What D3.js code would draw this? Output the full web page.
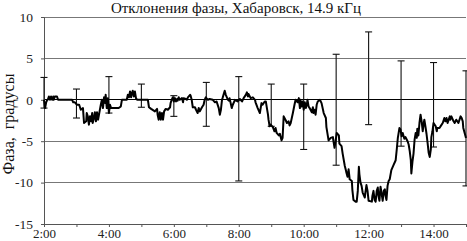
<html>
<script src="https://cdn.jsdelivr.net/npm/d3@7"></script>
<body style="margin:0">
<svg width=467 height=241></svg>
</body>
<script>

// minutes after 2:00 and phase deviation, degrees
var minutes = [0,2,4,6,7,9,11,13,15,17,18,20,24,26,52,54,57,61,65,68,72,74,78,79,81,83,85,87,89,90,92,94,96,98,100,103,105,107,109,111,113,114,116,118,120,122,124,138,142,144,153,155,157,159,161,162,164,166,168,170,172,192,194,198,205,209,210,212,214,216,218,220,222,225,229,233,234,236,238,240,242,244,246,247,249,251,255,257,258,262,264,266,270,271,273,275,279,281,284,286,288,292,295,297,299,303,306,312,316,319,323,325,327,329,330,334,336,340,342,343,347,349,353,358,362,366,369,373,375,377,378,382,386,390,391,395,399,402,404,408,410,412,414,415,417,419,423,426,428,430,434,436,439,441,443,447,449,452,454,456,460,463,465,469,471,473,474,476,478,480,482,484,486,487,489,491,495,497,498,500,502,504,506,510,513,517,521,522,526,530,534,535,537,539,541,545,546,550,552,556,558,559,561,563,565,569,570,572,576,578,580,582,583,585,587,589,593,594,596,598,600,606,607,609,611,613,615,617,618,620,622,624,626,628,630,631,633,635,637,639,642,646,650,652,654,655,657,659,661,663,666,668,672,674,676,678,679,681,683,685,687,689,690,692,694,696,698,700,702,703,705,707,709,711,713,715,716,718,720,724,726,727,731,735,737,740,742,744,746,750,751,753,757,759,762,766,770,772,774,775,780];
var phase = [0,-1.0,-0.3,0,0,0.4,0,0.4,0,0.4,0,0.4,0.4,0,0,-0.3,-0.3,-0.6,-0.6,-1.2,-1.0,-2.8,-2.6,-1.6,-2.0,-3.0,-2.0,-2.6,-1.6,-2.8,-2.3,-1.5,-2.6,-1.5,-2.4,-1.3,-0.6,0,-1.0,0.3,-0.4,0.6,-1.0,0.2,-1.6,-0.6,-1.0,-1.0,-0.8,0,0,0.6,0.3,1.0,0.3,0.7,1.1,0.4,1.0,0.2,0,0,-0.9,-1.1,-1.4,-1.1,-1.8,-2.4,-1.5,-2.4,-1.6,-2.4,-1.4,-1.1,-1.2,-0.9,-0.4,0,0.3,-0.2,0.2,-0.2,0.1,-0.1,0.3,0,0.2,-0.3,0.2,0.1,0,0.3,0.6,0.5,0,-0.9,-0.9,-1.2,-1.6,-1.0,-1.4,-0.9,-0.6,0,0.3,0,0.1,0,-0.3,-0.2,-1.0,-1.8,-1.2,0,0.2,1.1,0.6,0,-0.1,0.2,-1.0,-0.6,0,-0.2,0.1,-0.2,0.2,0.6,0.9,0.4,0.7,0.2,0.3,0,-0.3,-1.0,-1.6,-0.4,-0.6,-0.2,-0.2,-1.0,-1.8,-2.4,-3.2,-3.0,-3.3,-3.8,-3.4,-4.0,-4.3,-4.1,-4.9,-4.6,-2.0,-2.5,-2.8,-2.6,-3.1,-2.8,-1.6,-0.6,0,-0.3,0.2,-1.0,0,-0.8,-0.2,-1.2,-0.3,-1.0,-0.5,0,-0.8,-1.0,-1.5,-0.9,-1.6,-1.2,-1.8,-0.6,-0.2,0,-0.4,-1.6,-2.2,-3.3,-4.9,-4.6,-4.5,-5.0,-5.8,-5.0,-4.0,-4.3,-5.3,-5.6,-6.5,-8.0,-8.5,-8.8,-9.3,-8.4,-9.6,-9.8,-10.9,-12.1,-12.3,-12.3,-11.0,-8.1,-9.0,-10.0,-10.4,-11.2,-11.8,-11.2,-10.3,-11.0,-12.2,-12.3,-11.6,-11.0,-12.1,-12.3,-11.0,-10.6,-11.5,-12.2,-10.5,-11.3,-12.2,-11.0,-10.8,-11.5,-12.1,-10.4,-9.8,-9.6,-8.5,-7.9,-7.3,-6.0,-4.6,-4.2,-3.4,-3.6,-4.4,-4.0,-4.7,-4.5,-5.0,-5.4,-6.2,-7.3,-8.9,-7.5,-6.5,-4.8,-4.0,-4.6,-3.5,-4.3,-2.8,-1.8,-2.6,-3.8,-2.8,-2.4,-3.2,-4.1,-5.2,-6.4,-6.9,-6.0,-4.5,-3.8,-2.8,-3.2,-3.8,-3.4,-3.4,-3.0,-2.8,-2.2,-2.6,-2.2,-2.8,-2.0,-2.4,-2.0,-2.6,-2.8,-2.4,-2.8,-2.0,-2.2,-2.6,-3.4,-4.6];

// error bars, one per hour
var barHours = [2,3,4,5,6,7,8,9,10,11,12,13,14,15];
var barTop = [2.7,1.3,2.8,1.9,0.5,2.1,2.8,1.9,1.9,5.5,8.2,4.7,4.5,3.5];
var barBottom = [-1.0,-2.2,-1.6,-0.9,-2.0,-3.2,-9.8,-3.2,-6.0,-7.9,-3.0,-5.6,-5.7,-10.4];

var xTickLabels = ["2:00","4:00","6:00","8:00","10:00","12:00","14:00"];
var yTicks = [10,5,0,-5,-10,-15];

var mLeft = 44, mRight = 466, mTop = 17, mBottom = 224;
var svg = d3.select("svg");

var x = d3.scaleLinear().domain([0,780]).range([mLeft,mRight]);
var y = d3.scaleLinear().domain([-15,10]).range([mBottom,mTop]);

// grid
svg.selectAll(".grid").data(yTicks).enter().append("line")
  .attr("x1",mLeft).attr("x2",mRight)
  .attr("y1",function(d){return y(d);}).attr("y2",function(d){return y(d);})
  .attr("stroke", function(d){return d===0 ? "#000" : "#777";})
  .attr("stroke-width",1).attr("shape-rendering","crispEdges");

// y axis
var yAxis = d3.axisLeft(y).tickValues(yTicks).tickSize(3).tickFormat(function(d){return d;});
var gy = svg.append("g").attr("transform","translate("+mLeft+",0)").call(yAxis);
gy.select(".domain").attr("stroke","#555");
gy.selectAll("line").attr("stroke","#555");
gy.selectAll("text").attr("font-family","Liberation Serif").attr("font-size",13.5)
  .attr("fill","#222").attr("x",-11);

// x axis
var xAxis = d3.axisBottom(x).tickValues(d3.range(0,781,60)).tickSize(3)
  .tickFormat(function(d,i){ return d % 120 === 0 ? xTickLabels[d/120] : ""; });
var gx = svg.append("g").attr("transform","translate(0,"+mBottom+")").call(xAxis);
gx.select(".domain").attr("stroke","#555");
gx.selectAll("line").attr("stroke","#555");
gx.selectAll("text").attr("font-family","Liberation Serif").attr("font-size",13)
  .attr("fill","#222").attr("y",5);

// error bars
var cap = 3.5;
barHours.forEach(function(h,i){
  var cx = x((h-2)*60);
  var g = svg.append("g").attr("stroke","#111").attr("stroke-width",1.1);
  g.append("line").attr("x1",cx).attr("x2",cx).attr("y1",y(barTop[i])).attr("y2",y(barBottom[i]));
  g.append("line").attr("x1",cx-cap).attr("x2",cx+cap).attr("y1",y(barTop[i])).attr("y2",y(barTop[i]));
  g.append("line").attr("x1",cx-cap).attr("x2",cx+cap).attr("y1",y(barBottom[i])).attr("y2",y(barBottom[i]));
});

// phase line
var line = d3.line().x(function(d,i){return x(minutes[i]);}).y(function(d){return y(d);});
svg.append("path").datum(phase).attr("d",line)
  .attr("fill","none").attr("stroke","#000").attr("stroke-width",2)
  .attr("stroke-linejoin","round");

// title
svg.append("text").attr("x",236).attr("y",13).attr("text-anchor","middle")
  .attr("font-family","Liberation Serif").attr("font-size",15).attr("fill","#111")
  .text("Отклонения фазы, Хабаровск, 14.9 кГц");

// y label
svg.append("text").attr("transform","translate(14,124) rotate(-90)").attr("text-anchor","middle")
  .attr("font-family","Liberation Serif").attr("font-size",16).attr("fill","#111")
  .attr("xml:space","preserve")
  .text("Фаза,  градусы");

</script>
</html>
